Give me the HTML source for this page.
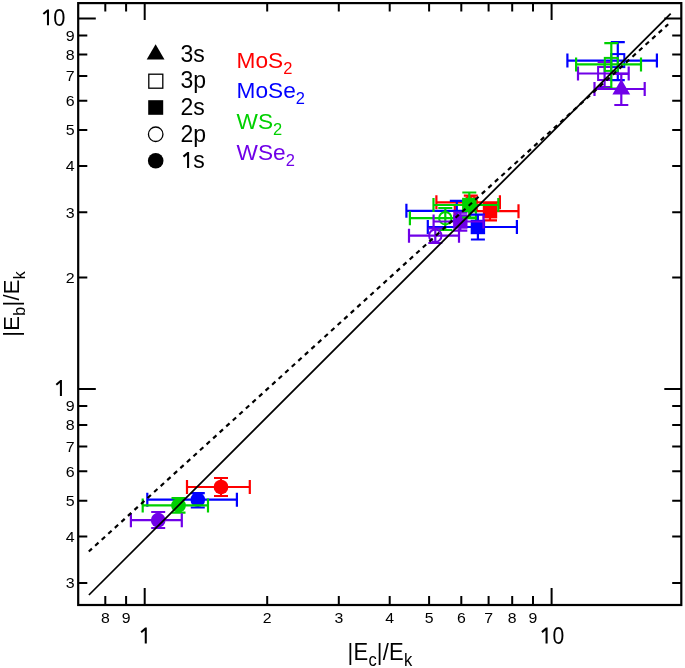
<!DOCTYPE html>
<html><head><meta charset="utf-8"><style>
html,body{margin:0;padding:0;background:#fff;}
svg{display:block;font-family:"Liberation Sans",sans-serif;will-change:transform;}

</style></head><body>
<svg width="685" height="668" viewBox="0 0 685 668">
<rect x="78.2" y="3.1" width="603.1" height="601.9" fill="none" stroke="#000" stroke-width="2.2"/>
<path d="M78.2 582.9H87.3M681.3 582.9H672.2M78.2 536.6H87.3M681.3 536.6H672.2M78.2 500.7H87.3M681.3 500.7H672.2M78.2 471.3H87.3M681.3 471.3H672.2M78.2 446.5H87.3M681.3 446.5H672.2M78.2 425.0H87.3M681.3 425.0H672.2M78.2 406.1H87.3M681.3 406.1H672.2M78.2 277.5H87.3M681.3 277.5H672.2M78.2 212.3H87.3M681.3 212.3H672.2M78.2 166.0H87.3M681.3 166.0H672.2M78.2 130.1H87.3M681.3 130.1H672.2M78.2 100.7H87.3M681.3 100.7H672.2M78.2 75.9H87.3M681.3 75.9H672.2M78.2 54.4H87.3M681.3 54.4H672.2M78.2 35.5H87.3M681.3 35.5H672.2M78.2 389.1H95.8M681.3 389.1H664.3M78.2 18.5H95.8M681.3 18.5H664.3M105.3 605.0V596.0M105.3 3.1V11.6M126.1 605.0V596.0M126.1 3.1V11.6M267.2 605.0V596.0M267.2 3.1V11.6M338.8 605.0V596.0M338.8 3.1V11.6M389.7 605.0V596.0M389.7 3.1V11.6M429.1 605.0V596.0M429.1 3.1V11.6M461.3 605.0V596.0M461.3 3.1V11.6M488.6 605.0V596.0M488.6 3.1V11.6M512.2 605.0V596.0M512.2 3.1V11.6M533.0 605.0V596.0M533.0 3.1V11.6M144.7 605.0V588.0M144.7 3.1V20.1M551.6 605.0V588.0M551.6 3.1V20.1" stroke="#000" stroke-width="2" fill="none"/>
<g font-family="Liberation Sans, sans-serif" fill="#000"><text transform="translate(74.6 588.1) scale(1.08 1)" text-anchor="end" font-size="14.8">3</text><text transform="translate(74.6 541.8) scale(1.08 1)" text-anchor="end" font-size="14.8">4</text><text transform="translate(74.6 505.9) scale(1.08 1)" text-anchor="end" font-size="14.8">5</text><text transform="translate(74.6 476.5) scale(1.08 1)" text-anchor="end" font-size="14.8">6</text><text transform="translate(74.6 451.7) scale(1.08 1)" text-anchor="end" font-size="14.8">7</text><text transform="translate(74.6 430.2) scale(1.08 1)" text-anchor="end" font-size="14.8">8</text><text transform="translate(74.6 411.3) scale(1.08 1)" text-anchor="end" font-size="14.8">9</text><text transform="translate(74.6 282.7) scale(1.08 1)" text-anchor="end" font-size="14.8">2</text><text transform="translate(74.6 217.5) scale(1.08 1)" text-anchor="end" font-size="14.8">3</text><text transform="translate(74.6 171.2) scale(1.08 1)" text-anchor="end" font-size="14.8">4</text><text transform="translate(74.6 135.3) scale(1.08 1)" text-anchor="end" font-size="14.8">5</text><text transform="translate(74.6 105.9) scale(1.08 1)" text-anchor="end" font-size="14.8">6</text><text transform="translate(74.6 81.1) scale(1.08 1)" text-anchor="end" font-size="14.8">7</text><text transform="translate(74.6 59.6) scale(1.08 1)" text-anchor="end" font-size="14.8">8</text><text transform="translate(74.6 40.7) scale(1.08 1)" text-anchor="end" font-size="14.8">9</text><path d="M61.95 396.00L59.90 396.00L59.90 383.00L56.95 385.50L55.65 383.90L60.25 380.10L61.95 380.10ZM49.00 25.30L46.95 25.30L46.95 12.30L44.00 14.80L42.70 13.20L47.30 9.40L49.00 9.40ZM146.80 643.50L144.75 643.50L144.75 630.50L141.80 633.00L140.50 631.40L145.10 627.60L146.80 627.60ZM547.60 643.40L545.55 643.40L545.55 630.40L542.60 632.90L541.30 631.30L545.90 627.50L547.60 627.50ZM189.10 167.90L187.05 167.90L187.05 154.90L184.10 157.40L182.80 155.80L187.40 152.00L189.10 152.00Z" fill="#000"/><text transform="translate(59.4 26.4) scale(0.93 1)" text-anchor="middle" font-size="23.5">0</text><text transform="translate(558.4 644.0) scale(0.9 1)" text-anchor="middle" font-size="23.5">0</text><text transform="translate(105.3 622.6) scale(1.07 1)" text-anchor="middle" font-size="14.8">8</text><text transform="translate(126.1 622.6) scale(1.07 1)" text-anchor="middle" font-size="14.8">9</text><text transform="translate(267.2 622.6) scale(1.07 1)" text-anchor="middle" font-size="14.8">2</text><text transform="translate(338.8 622.6) scale(1.07 1)" text-anchor="middle" font-size="14.8">3</text><text transform="translate(389.7 622.6) scale(1.07 1)" text-anchor="middle" font-size="14.8">4</text><text transform="translate(429.1 622.6) scale(1.07 1)" text-anchor="middle" font-size="14.8">5</text><text transform="translate(461.3 622.6) scale(1.07 1)" text-anchor="middle" font-size="14.8">6</text><text transform="translate(488.6 622.6) scale(1.07 1)" text-anchor="middle" font-size="14.8">7</text><text transform="translate(512.2 622.6) scale(1.07 1)" text-anchor="middle" font-size="14.8">8</text><text transform="translate(533.0 622.6) scale(1.07 1)" text-anchor="middle" font-size="14.8">9</text></g>
<text transform="translate(347.6 659.8) scale(1 1.08)" letter-spacing="0.2" font-family="Liberation Sans, sans-serif" font-size="22">|E<tspan font-size="16.5" dy="5.4">c</tspan><tspan dy="-5.4">|/E</tspan><tspan font-size="16.5" dy="5.4">k</tspan></text>
<text transform="translate(18.9 336.8) rotate(-90)" letter-spacing="0.3" font-family="Liberation Sans, sans-serif" font-size="22">|E<tspan font-size="16" dy="5.6">b</tspan><tspan dy="-5.6">|/E</tspan><tspan font-size="16" dy="5.6">k</tspan></text>
<path d="M187 487H249.8M187 480V494M249.8 480V494M221 478V496M214 478H228M214 496H228" stroke="#ff0000" stroke-width="2.2" fill="none"/>
<circle cx="221" cy="487" r="7.35" fill="#ff0000"/>
<path d="M147.3 499.7H236.9M147.3 492.7V506.7M236.9 492.7V506.7M197.8 493.1V507.5M190.8 493.1H204.8M190.8 507.5H204.8" stroke="#0000ff" stroke-width="2.2" fill="none"/>
<circle cx="197.8" cy="499.7" r="7.35" fill="#0000ff"/>
<path d="M142.7 505.4H208M142.7 498.4V512.4M208 498.4V512.4M178.5 498.1V512.6M171.5 498.1H185.5M171.5 512.6H185.5" stroke="#00d000" stroke-width="2.2" fill="none"/>
<circle cx="178.5" cy="505.4" r="7.35" fill="#00d000"/>
<path d="M130.9 520.2H181.8M130.9 513.2V527.2M181.8 513.2V527.2M158.2 512V528M151.2 512H165.2M151.2 528H165.2" stroke="#7000e8" stroke-width="2.2" fill="none"/>
<circle cx="158.2" cy="520.2" r="7.35" fill="#7000e8"/>
<circle cx="470.8" cy="202.3" r="6.2" fill="none" stroke="#ff0000" stroke-width="2"/>
<path d="M436.4 202.3H499.9M436.4 195.3V209.3M499.9 195.3V209.3M470.8 195.6V209M463.8 195.6H477.8M463.8 209H477.8" stroke="#ff0000" stroke-width="2.2" fill="none"/>
<path d="M454.8 211.2H518.5M454.8 204.2V218.2M518.5 204.2V218.2M490 204V220.3M483 204H497M483 220.3H497" stroke="#ff0000" stroke-width="2.2" fill="none"/>
<rect x="482.8" y="204.0" width="14.4" height="14.4" fill="#ff0000"/>
<path d="M406.4 210.8H470M406.4 203.8V217.8M470 203.8V217.8M456.8 200.8V221M449.8 200.8H463.8M449.8 221H463.8" stroke="#0000ff" stroke-width="2.2" fill="none"/>
<circle cx="445.3" cy="218.2" r="6.2" fill="none" stroke="#00d000" stroke-width="2"/>
<path d="M409.9 218.2H476M409.9 211.2V225.2M476 211.2V225.2M445.3 208V230M438.3 208H452.3M438.3 230H452.3" stroke="#00d000" stroke-width="2.2" fill="none"/>
<path d="M427.8 227H516.9M427.8 220V234M516.9 220V234M477.9 214.7V239.5M470.9 214.7H484.9M470.9 239.5H484.9" stroke="#0000ff" stroke-width="2.2" fill="none"/>
<rect x="470.7" y="219.8" width="14.4" height="14.4" fill="#0000ff"/>
<circle cx="435.3" cy="235.7" r="6.2" fill="none" stroke="#7000e8" stroke-width="2"/>
<path d="M409 235.7H459M409 228.7V242.7M459 228.7V242.7M435.3 228.5V243M428.3 228.5H442.3M428.3 243H442.3" stroke="#7000e8" stroke-width="2.2" fill="none"/>
<path d="M433.6 221.5H483.5M433.6 214.5V228.5M483.5 214.5V228.5M460.3 212.7V230.7M453.3 212.7H467.3M453.3 230.7H467.3" stroke="#7000e8" stroke-width="2.2" fill="none"/>
<rect x="453.1" y="214.3" width="14.4" height="14.4" fill="#7000e8"/>
<path d="M433.5 205H498.3M433.5 198V212M498.3 198V212M469.3 192.5V217.5M462.3 192.5H476.3M462.3 217.5H476.3" stroke="#00d000" stroke-width="2.2" fill="none"/>
<rect x="462.1" y="197.8" width="14.4" height="14.4" fill="#00d000"/>
<rect x="611.3" y="54.1" width="13" height="13" fill="none" stroke="#0000ff" stroke-width="2"/>
<path d="M567.4 60.6H656.9M567.4 53.6V67.6M656.9 53.6V67.6M617.8 42.1V80.2M610.8 42.1H624.8M610.8 80.2H624.8" stroke="#0000ff" stroke-width="2.2" fill="none"/>
<rect x="598.1" y="67.0" width="13" height="13" fill="none" stroke="#7000e8" stroke-width="2"/>
<path d="M578 73.5H628.7M578 66.5V80.5M628.7 66.5V80.5M604.6 62V87M597.6 62H611.6M597.6 87H611.6" stroke="#7000e8" stroke-width="2.2" fill="none"/>
<rect x="604.8" y="57.900000000000006" width="13" height="13" fill="none" stroke="#00d000" stroke-width="2"/>
<path d="M576.1 64.4H641M576.1 57.400000000000006V71.4M641 57.400000000000006V71.4M611.3 43.1V88.7M604.3 43.1H618.3M604.3 88.7H618.3" stroke="#00d000" stroke-width="2.2" fill="none"/>
<path d="M594.5 89H644.7M594.5 82V96M644.7 82V96M621.3 73.9V105M614.3 73.9H628.3M614.3 105H628.3" stroke="#7000e8" stroke-width="2.2" fill="none"/>
<path d="M621.3 79.2L630.1999999999999 94.5H612.4Z" fill="#7000e8"/>
<path d="M88.9 595L670.7 13.6" stroke="#000" stroke-width="1.75" fill="none"/>
<path d="M88.8 551.5L668.2 24.2" stroke="#000" stroke-width="2.2" stroke-dasharray="4.5 4.36" stroke-dashoffset="0.25" fill="none"/>
<g font-family="Liberation Sans, sans-serif"><path d="M155.6 44.3L164.5 59.5H146.7Z" fill="#000"/><rect x="148.8" y="74.2" width="14" height="14" fill="#fff" stroke="#000" stroke-width="1.3"/><rect x="148.2" y="100.2" width="15" height="14.6" fill="#000"/><circle cx="155.7" cy="134.25" r="7.25" fill="#fff" stroke="#000" stroke-width="1.3"/><circle cx="155.7" cy="160.8" r="7.8" fill="#000"/><text x="180.5" y="61.7" font-size="23">3s</text><text x="180.5" y="88.4" font-size="23">3p</text><text x="180.5" y="115.0" font-size="23">2s</text><text x="180.5" y="141.7" font-size="23">2p</text><text x="193.3" y="168.0" font-size="23">s</text><text transform="translate(236.6 68.3) scale(1.03 1.03)" font-size="22" fill="#ff0000">MoS<tspan font-size="16" dy="5.9">2</tspan></text><text transform="translate(236.6 98.4) scale(1.03 1.03)" font-size="22" fill="#0000ff">MoSe<tspan font-size="16" dy="5.9">2</tspan></text><text transform="translate(236.6 128.6) scale(1.03 1.03)" font-size="22" fill="#00d000">WS<tspan font-size="16" dy="5.9">2</tspan></text><text transform="translate(236.6 159.6) scale(1.03 1.03)" font-size="22" fill="#7000e8">WSe<tspan font-size="16" dy="5.9">2</tspan></text></g>
</svg>
</body></html>
